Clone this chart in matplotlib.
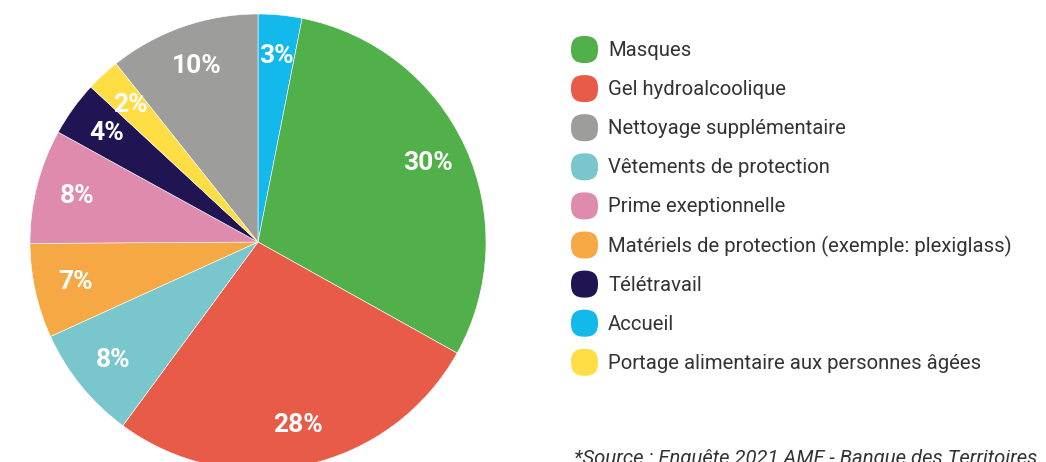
import matplotlib.pyplot as plt
from matplotlib.patches import FancyBboxPatch

# pie slices, clockwise from 12 o'clock (shares)
slice_names = ['Accueil', 'Masques', 'Gel hydroalcoolique', 'Vêtements de protection',
               'Matériels de protection (exemple: plexiglass)', 'Prime exeptionnelle',
               'Télétravail', 'Portage alimentaire aux personnes âgées',
               'Nettoyage supplémentaire']
slice_values = [3.1, 30.0, 27.0, 8.1, 6.7, 8.1, 3.9, 2.4, 10.7]
slice_labels = ['3%', '30%', '28%', '8%', '7%', '8%', '4%', '2%', '10%']

colors = {
    'Masques': '#52B04A',
    'Gel hydroalcoolique': '#E85B48',
    'Nettoyage supplémentaire': '#9D9D9C',
    'Vêtements de protection': '#79C6CC',
    'Prime exeptionnelle': '#DE8BAD',
    'Matériels de protection (exemple: plexiglass)': '#F5A844',
    'Télétravail': '#211452',
    'Accueil': '#13B9EA',
    'Portage alimentaire aux personnes âgées': '#FFDD44',
}

legend_order = ['Masques', 'Gel hydroalcoolique', 'Nettoyage supplémentaire',
                'Vêtements de protection', 'Prime exeptionnelle',
                'Matériels de protection (exemple: plexiglass)', 'Télétravail',
                'Accueil', 'Portage alimentaire aux personnes âgées']

source = "*Source : Enquête 2021 AMF - Banque des Territoires"

W, H = 1046, 462
fig = plt.figure(figsize=(W / 100, H / 100), dpi=100)

# pie axes: centre (258, 242) px, radius 228 px
cx, cy, r = 258, 242, 228
ax = fig.add_axes([(cx - r) / W, (H - cy - r) / H, 2 * r / W, 2 * r / H])
wedges, texts, autotexts = ax.pie(
    slice_values, colors=[colors[n] for n in slice_names],
    startangle=90, counterclock=False, radius=1,
    autopct='%.0f', pctdistance=0.82,
    wedgeprops=dict(edgecolor='white', linewidth=0.4),
    textprops=dict(color='white', fontsize=19, fontweight='bold', family='Roboto'))
for t, lab in zip(autotexts, slice_labels):
    t.set_text(lab)
ax.set_xlim(-1, 1)
ax.set_ylim(-1, 1)
ax.set_aspect('equal')
ax.axis('off')

# legend
x0, y0, step, size = 571, 49.5, 39.1, 27
for i, name in enumerate(legend_order):
    yc = y0 + i * step
    box = FancyBboxPatch((x0 / W, (H - yc - size / 2) / H), size / W, size / H,
                         boxstyle="round,pad=0,rounding_size=0.012",
                         transform=fig.transFigure, facecolor=colors[name],
                         edgecolor='none', mutation_aspect=W / H)
    fig.add_artist(box)
    fig.text(608 / W, (H - yc - 1) / H, name, fontsize=14.6, color='#333333',
             va='center', ha='left', family='Roboto')

fig.text(574 / W, (H - 449) / H, source, fontsize=14.6, color='#333333',
         style='italic', va='top', ha='left', family='Roboto')

fig.savefig('out.png', dpi=100)
